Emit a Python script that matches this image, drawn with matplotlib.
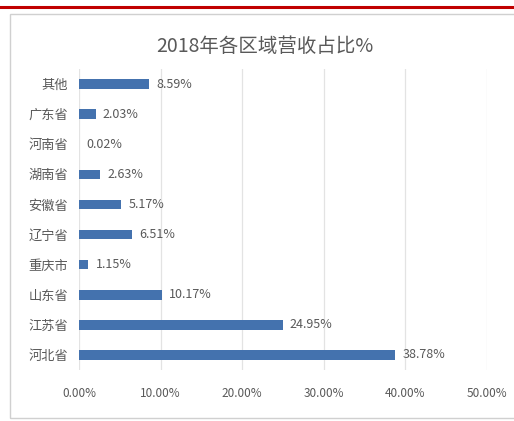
import matplotlib
matplotlib.use('Agg')
import matplotlib.pyplot as plt
from matplotlib.patches import Rectangle
from matplotlib.lines import Line2D
from matplotlib.ticker import FuncFormatter

plt.rcParams['font.family'] = ['Noto Sans CJK SC', 'DejaVu Sans']

# data (top to bottom as shown)
regions = ['其他', '广东省', '河南省', '湖南省', '安徽省', '辽宁省', '重庆市', '山东省', '江苏省', '河北省']
shares = [8.59, 2.03, 0.02, 2.63, 5.17, 6.51, 1.15, 10.17, 24.95, 38.78]
xticks = [0, 10, 20, 30, 40, 50]

text_color = '#595959'
bar_color = '#4472AE'

fig = plt.figure(figsize=(5.14, 4.21), dpi=100)

# red rule at top and chart frame
fig.add_artist(Line2D([0, 1], [1 - 6.5 / 421, 1 - 6.5 / 421], color='#C00000', lw=2.2))
fig.add_artist(Rectangle((10 / 514, 3 / 421), 1.0, 404 / 421, fill=False,
                         edgecolor='#D0D0D0', lw=1.0, transform=fig.transFigure))

ax = fig.add_axes([79 / 514, 51 / 421, 408 / 514, 301 / 421])
ypos = list(range(len(regions)))
ax.barh(ypos, shares, height=0.32, color=bar_color, zorder=3)
ax.set_ylim(len(regions) - 0.5, -0.5)
ax.set_xlim(0, 50)
ax.set_yticks(ypos)
ax.set_yticklabels(regions, fontsize=9.5, color=text_color)
ax.set_xticks(xticks)
ax.xaxis.set_major_formatter(FuncFormatter(lambda v, p: '%.2f%%' % v))
ax.tick_params(axis='x', labelsize=8.5, colors=text_color, length=0, pad=12)
ax.tick_params(axis='y', length=0, pad=8)
ax.grid(axis='x', color='#E3E3E3', lw=0.9, zorder=0)
for s in ax.spines.values():
    s.set_visible(False)

for y, v in zip(ypos, shares):
    ax.text(v + 0.9, y, '%.2f%%' % v, va='center', ha='left', fontsize=9, color=text_color)

fig.text(265 / 514, 1 - 47 / 421, '2018年各区域营收占比%', ha='center', va='center',
         fontsize=14, color=text_color)

fig.savefig('out.png', dpi=100)
